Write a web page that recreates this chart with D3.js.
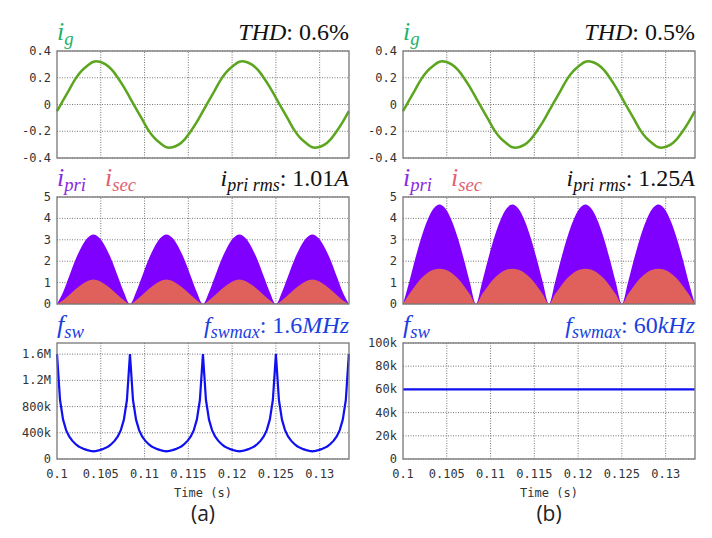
<!DOCTYPE html><html><head><meta charset="utf-8"><script src="https://cdn.jsdelivr.net/npm/d3@7"></script>
<style>body{margin:0;background:#fff}</style></head><body><svg id="c" width="712" height="538"></svg>
<script>
// ---- data ----
const tStart = 0.1, tEnd = 0.13335;
const xTicks = [0.1,0.105,0.11,0.115,0.12,0.125,0.13];
// grid current, one cycle (1/60 s) sampled at 24 points
const igCycle = [-0.05,0.03,0.11,0.19,0.25,0.29,0.32,0.32,0.30,0.26,0.20,0.13,0.05,-0.03,-0.11,-0.19,-0.25,-0.29,-0.32,-0.32,-0.30,-0.26,-0.20,-0.13];
// half-cycle envelopes (13 points over 1/120 s)
const priA = [0,0.55,1.3,2.05,2.65,3.08,3.25,3.08,2.65,2.05,1.3,0.55,0];
const secA = [0,0.18,0.42,0.68,0.9,1.07,1.15,1.07,0.9,0.68,0.42,0.18,0];
const priB = [0,1.0,2.1,3.1,3.9,4.45,4.65,4.45,3.9,3.1,2.1,1.0,0];
const secB = [0,0.45,0.85,1.2,1.45,1.6,1.65,1.6,1.45,1.2,0.85,0.45,0];
// switching frequency, half-cycle, 25 points (kHz)
const fswA = [1600,900,600,440,345,280,232,195,170,150,135,125,118,125,135,150,170,195,232,280,345,440,600,900,1600];
const fswB = [60,60,60,60,60,60,60,60,60,60,60,60,60,60,60,60,60,60,60,60,60,60,60,60,60];
const igTicks=[-0.4,-0.2,0,0.2,0.4], priTicks=[0,1,2,3,4,5];
const fTicksA=[0,400,800,1200,1600], fTicksB=[0,20,40,60,80,100];
const fmtA={0:"0",400:"400k",800:"800k",1200:"1.2M",1600:"1.6M"};
const panels=[
 {ox:0,thd:"0.6%",rms:"1.01A",fmax:"1.6MHz",pri:priA,sec:secA,fsw:fswA,fdom:[0,1770],fticks:fTicksA,ffmt:v=>fmtA[v],lab:"(a)"},
 {ox:346,thd:"0.5%",rms:"1.25A",fmax:"60kHz",pri:priB,sec:secB,fsw:fswB,fdom:[0,100],fticks:fTicksB,ffmt:v=>v?v+"k":"0",lab:"(b)"}];
const HALF=1/120;
function series(arr,period,reps){const out=[];const n=arr.length;for(let r=0;r<reps;r++)for(let i=0;i<n;i++){if(r>0&&i==0)continue;out.push([tStart+r*period+i*period/(n-1),arr[i]]);}return out;}
function cyc(arr,period,reps){const out=[];const n=arr.length;for(let r=0;r<reps;r++)for(let i=0;i<n;i++)out.push([tStart+(r*n+i)*period/n,arr[i]]);out.push([tStart+reps*period,arr[0]]);return out;}

const svg=d3.select("#c");
const mono="'DejaVu Sans Mono',monospace", serif="'Liberation Serif',serif";
function frame(g,x,y,ticks,fmt){
  g.append("g").selectAll("line").data(xTicks.slice(1)).join("line").attr("x1",d=>x(d)).attr("x2",d=>x(d)).attr("y1",y.range()[0]).attr("y2",y.range()[1]).attr("stroke","#666").attr("stroke-dasharray","1,1.5").attr("stroke-width",0.9);
  g.append("g").selectAll("line").data(ticks).join("line").attr("x1",x.range()[0]).attr("x2",x.range()[1]).attr("y1",d=>y(d)).attr("y2",d=>y(d)).attr("stroke","#666").attr("stroke-dasharray","1,1.5").attr("stroke-width",0.9);
  g.append("g").selectAll("text").data(ticks).join("text").attr("x",x.range()[0]-6).attr("y",d=>y(d)+4).attr("text-anchor","end").attr("font-family",mono).attr("font-size",12).attr("fill","#333").text(fmt);
}
function border(g,x,y){g.append("rect").attr("x",x.range()[0]).attr("y",y.range()[1]).attr("width",x.range()[1]-x.range()[0]).attr("height",y.range()[0]-y.range()[1]).attr("fill","none").attr("stroke","#777").attr("stroke-width",1.3);}
function label(g,x,y,main,sub,col,size){const t=g.append("text").attr("x",x).attr("y",y).attr("font-family",serif).attr("font-style","italic").attr("font-size",size||26).attr("fill",col);t.append("tspan").text(main);t.append("tspan").attr("font-size",(size||26)*0.72).attr("dy",5).text(sub);return t;}
function rlabel(g,x,y,main,sub,val,col){const t=g.append("text").attr("x",x).attr("y",y).attr("text-anchor","end").attr("font-family",serif).attr("font-size",24).attr("fill",col);
  t.append("tspan").attr("font-style","italic").text(main);if(sub)t.append("tspan").attr("font-style","italic").attr("font-size",18).attr("dy",5).text(sub);
  t.append("tspan").attr("dy",sub?-5:0).text(": "+val.replace(/[A-Za-z%]+$/,""));const u=val.match(/[A-Za-z%]+$/)[0];t.append("tspan").attr("font-style",u=="%"?"normal":"italic").text(u);}
panels.forEach(p=>{
  const g=svg.append("g").attr("transform",`translate(${p.ox},0)`);
  const x=d3.scaleLinear().domain([tStart,tEnd]).range([57,349]);
  const y1=d3.scaleLinear().domain([-0.4,0.4]).range([158,51]);
  frame(g,x,y1,igTicks,d=>d==0?"0":d.toFixed(1));
  g.append("path").datum(cyc(igCycle,1/60,2)).attr("d",d3.line().x(d=>x(d[0])).y(d=>y1(d[1])).curve(d3.curveCatmullRom)).attr("fill","none").attr("stroke","#5ba51f").attr("stroke-width",2.5);
  border(g,x,y1);
  label(g,57,40,"i","g","#1db36b");
  rlabel(g,349,40,"THD","",p.thd,"#111");
  const y2=d3.scaleLinear().domain([0,5]).range([304,197]);
  frame(g,x,y2,priTicks,d=>d);
  const area=d3.area().x(d=>x(d[0])).y0(y2(0)).y1(d=>y2(d[1])).curve(d3.curveMonotoneX);
  g.append("path").datum(series(p.pri,HALF,4)).attr("d",area).attr("fill","#7f00ff");
  g.append("path").datum(series(p.sec,HALF,4)).attr("d",area).attr("fill","#e0605c");
  border(g,x,y2);
  label(g,57,186,"i","pri","#8a2be2");
  label(g,105,186,"i","sec","#e06070");
  rlabel(g,349,186,"i","pri rms",p.rms,"#111");
  const y3=d3.scaleLinear().domain(p.fdom).range([459,343]);
  frame(g,x,y3,p.fticks,p.ffmt);
  g.append("path").datum(series(p.fsw,HALF,4)).attr("d",d3.line().x(d=>x(d[0])).y(d=>y3(d[1]))).attr("fill","none").attr("stroke","#1010f0").attr("stroke-width",2.2);
  border(g,x,y3);
  label(g,57,333,"f","sw","#1a3fe0");
  rlabel(g,349,333,"f","swmax",p.fmax,"#1a3fe0");
  g.append("g").selectAll("text").data(xTicks).join("text").attr("x",d=>x(d)).attr("y",478).attr("text-anchor","middle").attr("font-family",mono).attr("font-size",12).attr("fill","#333").text(d=>String(d));
  g.append("text").attr("x",203).attr("y",497).attr("text-anchor","middle").attr("font-family",mono).attr("font-size",12).attr("fill","#333").text("Time (s)");
  g.append("text").attr("x",203).attr("y",521).attr("text-anchor","middle").attr("font-family","'Open Sans',sans-serif").attr("font-size",21).attr("fill","#222").text(p.lab);
});
</script></body></html>
